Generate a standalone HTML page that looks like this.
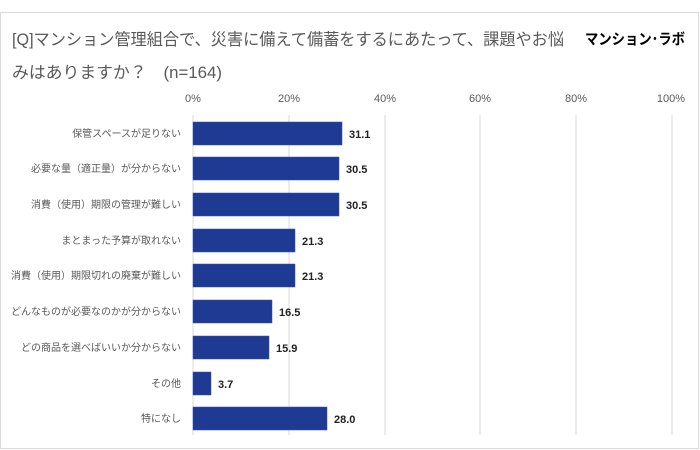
<!DOCTYPE html>
<html><head><meta charset="utf-8"><style>
html,body{margin:0;padding:0;background:#fff;}
svg{display:block;font-family:"Liberation Sans","Noto Sans CJK JP",sans-serif;}
</style></head><body>
<svg width="700" height="450" viewBox="0 0 700 450">
<rect x="0.5" y="12.5" width="698" height="436" fill="#fff" stroke="#d9d9d9"/>
<text x="12" y="45" font-size="16.5" fill="#595959" textLength="552" lengthAdjust="spacingAndGlyphs">[Q]マンション管理組合で、災害に備えて備蓄をするにあたって、課題やお悩</text>
<text x="12" y="78" font-size="16.5" fill="#595959" textLength="210" lengthAdjust="spacingAndGlyphs">みはありますか？　(n=164)</text>
<text x="585" y="44" font-size="15" font-weight="bold" fill="#000" textLength="100" lengthAdjust="spacingAndGlyphs">マンション･ラボ</text>
<g font-size="11" fill="#595959" text-anchor="middle">
<text x="193" y="102">0%</text><text x="289" y="102">20%</text><text x="385" y="102">40%</text>
<text x="480" y="102">60%</text><text x="576" y="102">80%</text><text x="671" y="102">100%</text>
</g>
<g stroke="#d9d9d9" stroke-width="1">
<line x1="289" y1="115" x2="289" y2="435"/><line x1="385" y1="115" x2="385" y2="435"/>
<line x1="480" y1="115" x2="480" y2="435"/><line x1="576" y1="115" x2="576" y2="435"/>
<line x1="672" y1="115" x2="672" y2="435"/><line x1="193" y1="115" x2="193" y2="435"/>
</g>
<g fill="#1f3a93" stroke="#2f4fb0" stroke-width="0.5">
<rect x="193" y="122" width="149" height="23"/>
<rect x="193" y="157" width="146" height="23"/>
<rect x="193" y="193" width="146" height="23"/>
<rect x="193" y="229" width="102" height="23"/>
<rect x="193" y="264" width="102" height="23"/>
<rect x="193" y="300" width="79" height="23"/>
<rect x="193" y="336" width="76" height="23"/>
<rect x="193" y="372" width="18" height="23"/>
<rect x="193" y="407" width="134" height="23"/>
</g>
<g font-size="11" font-weight="bold" fill="#222">
<text x="349" y="138">31.1</text><text x="346" y="173">30.5</text><text x="346" y="209">30.5</text>
<text x="302" y="245">21.3</text><text x="302" y="280">21.3</text><text x="279" y="316">16.5</text>
<text x="276" y="352">15.9</text><text x="218" y="388">3.7</text><text x="334" y="423">28.0</text>
</g>
<g font-size="10" fill="#595959" text-anchor="end">
<text x="181" y="137">保管スペースが足りない</text>
<text x="181" y="172">必要な量（適正量）が分からない</text>
<text x="181" y="208">消費（使用）期限の管理が難しい</text>
<text x="181" y="244">まとまった予算が取れない</text>
<text x="181" y="279">消費（使用）期限切れの廃棄が難しい</text>
<text x="181" y="315">どんなものが必要なのかが分からない</text>
<text x="181" y="351">どの商品を選べばいいか分からない</text>
<text x="181" y="387">その他</text>
<text x="181" y="422">特になし</text>
</g>
</svg>
</body></html>
